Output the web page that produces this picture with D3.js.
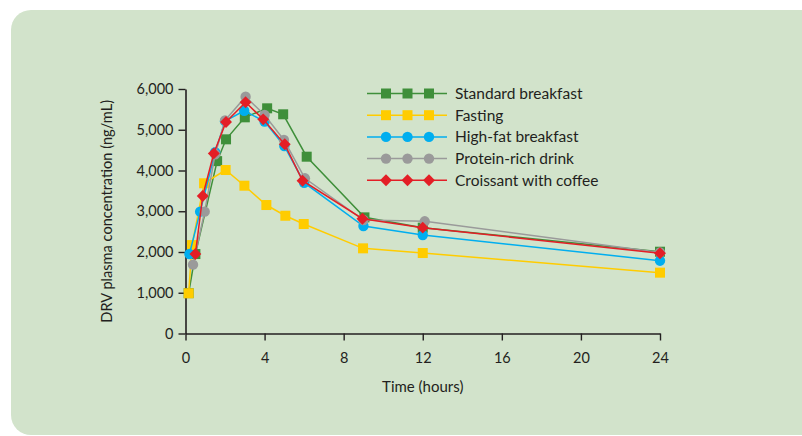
<!DOCTYPE html>
<html>
<head>
<meta charset="utf-8">
<script src="https://cdn.jsdelivr.net/npm/d3@7/dist/d3.min.js"></script>
<style>
  html, body { margin: 0; padding: 0; background: #ffffff; }
  svg { display: block; }
  text { font-family: Lato, "Open Sans", sans-serif; fill: #231f20; }
</style>
</head>
<body>
<svg id="chart" width="802" height="436"></svg>
<script>
// Darunavir plasma concentration over time under five meal conditions
const seriesNames = ["Standard breakfast", "Fasting", "High-fat breakfast", "Protein-rich drink", "Croissant with coffee"];
const seriesColors = ["#3f8f3a", "#ffcc00", "#00aeef", "#9a9a9a", "#e31e26"];
const seriesShapes = ["square", "square", "circle", "circle", "diamond"];

// time (hours) / concentration (ng/mL) pairs per series
const standardTimes = [0.16, 0.5, 1.6, 2.05, 3.0, 4.13, 4.94, 6.13, 9.05, 12, 24];
const standardValues = [990, 1950, 4230, 4765, 5305, 5526, 5379, 4339, 2850, 2597, 2007];
const fastingTimes = [0.16, 0.33, 0.94, 2.03, 2.98, 4.09, 5.05, 5.98, 8.98, 12, 24];
const fastingValues = [987, 2170, 3686, 4012, 3627, 3153, 2890, 2687, 2090, 1975, 1493];
const highFatTimes = [0.2, 0.74, 1.5, 2.0, 2.97, 4.0, 5.0, 6.0, 9.0, 12, 24];
const highFatValues = [1950, 2990, 4450, 5210, 5467, 5200, 4600, 3700, 2638, 2417, 1787];
const proteinTimes = [0.38, 0.97, 1.5, 2.0, 3.04, 4.0, 4.98, 6.04, 9.0, 12.1, 24];
const proteinValues = [1690, 2990, 4400, 5230, 5811, 5362, 4748, 3808, 2785, 2753, 1990];
const croissantTimes = [0.5, 0.87, 1.43, 2.05, 3.04, 3.93, 5.02, 5.92, 8.95, 12, 24];
const croissantValues = [1950, 3374, 4420, 5190, 5674, 5256, 4643, 3750, 2817, 2597, 1968];

const xTicks = [0, 4, 8, 12, 16, 20, 24];
const yTicks = [0, 1000, 2000, 3000, 4000, 5000, 6000];

const seriesTimes = [standardTimes, fastingTimes, highFatTimes, proteinTimes, croissantTimes];
const seriesValues = [standardValues, fastingValues, highFatValues, proteinValues, croissantValues];

const svg = d3.select("#chart");

// rounded green panel
svg.append("rect")
  .attr("x", 11).attr("y", 10)
  .attr("width", 812).attr("height", 425)
  .attr("rx", 20).attr("ry", 20)
  .attr("fill", "#d2e3cb");

const x = d3.scaleLinear().domain([0, 24]).range([185.5, 660]);
const y = d3.scaleLinear().domain([0, 6000]).range([333.5, 89]);

const ink = "#231f20";

const xAxis = svg.append("g")
  .attr("transform", `translate(0,${y(0)})`)
  .call(d3.axisBottom(x).tickValues(xTicks).tickSize(7).tickPadding(12).tickSizeOuter(0));
const yAxis = svg.append("g")
  .attr("transform", `translate(${x(0)},0)`)
  .call(d3.axisLeft(y).tickValues(yTicks).tickSize(7).tickPadding(5).tickSizeOuter(0)
    .tickFormat(d3.format(",")));

[xAxis, yAxis].forEach(g => {
  g.select(".domain").attr("stroke", ink).attr("stroke-width", 1.6);
  g.selectAll(".tick line").attr("stroke", ink).attr("stroke-width", 1.4);
  g.selectAll(".tick text")
    .attr("fill", ink)
    .style("font-family", "Lato, 'Open Sans', sans-serif")
    .style("font-size", "14.5px");
});

svg.append("text")
  .attr("x", (x(0) + x(24)) / 2)
  .attr("y", 392)
  .attr("text-anchor", "middle")
  .style("font-size", "15px")
  .text("Time (hours)");

svg.append("text")
  .attr("transform", `translate(112,${(y(0) + y(6000)) / 2}) rotate(-90)`)
  .attr("text-anchor", "middle")
  .style("font-size", "14.6px")
  .text("DRV plasma concentration (ng/mL)");

function drawMarker(g, shape, color, cx, cy) {
  if (shape === "square") {
    g.append("rect")
      .attr("x", cx - 5).attr("y", cy - 5)
      .attr("width", 10).attr("height", 10)
      .attr("fill", color);
  } else if (shape === "circle") {
    g.append("circle")
      .attr("cx", cx).attr("cy", cy).attr("r", 5.2)
      .attr("fill", color);
  } else {
    g.append("path")
      .attr("d", d3.symbol().type(d3.symbolDiamond2).size(90)())
      .attr("transform", `translate(${cx},${cy})`)
      .attr("fill", color);
  }
}

const line = d3.line().x(d => x(d[0])).y(d => y(d[1]));

seriesNames.forEach((name, i) => {
  const pts = seriesTimes[i].map((t, j) => [t, seriesValues[i][j]]);
  const g = svg.append("g").attr("class", "series");
  g.append("path")
    .datum(pts)
    .attr("d", line)
    .attr("fill", "none")
    .attr("stroke", seriesColors[i])
    .attr("stroke-width", 1.5);
  pts.forEach(p => drawMarker(g, seriesShapes[i], seriesColors[i], x(p[0]), y(p[1])));
});

// legend
const legend = svg.append("g");
seriesNames.forEach((name, i) => {
  const ly = 93.5 + i * 21.7;
  legend.append("line")
    .attr("x1", 367).attr("x2", 447)
    .attr("y1", ly).attr("y2", ly)
    .attr("stroke", seriesColors[i]).attr("stroke-width", 1.5);
  [386, 407.5, 429].forEach(mx => drawMarker(legend, seriesShapes[i], seriesColors[i], mx, ly));
  legend.append("text")
    .attr("x", 455).attr("y", ly)
    .attr("dy", "0.35em")
    .style("font-size", "15.5px")
    .text(name);
});
</script>
</body>
</html>
